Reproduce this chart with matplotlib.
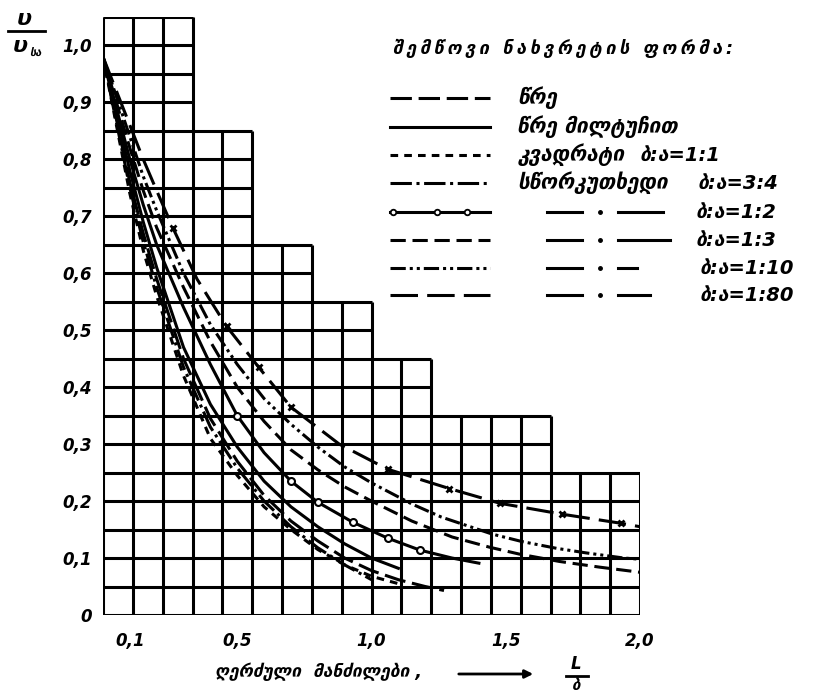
import numpy as np
import matplotlib
matplotlib.use("Agg")
import matplotlib.pyplot as plt

plt.rcParams['font.family'] = ['DejaVu Sans']

# ---------------- DATA ----------------
# velocity ratio v/v0 along the axis of the opening
circle_x = [0.0, 0.05, 0.1, 0.15, 0.2, 0.3, 0.4, 0.5, 0.6, 0.7, 0.8, 0.9, 1.0, 1.1, 1.2, 1.27]
circle_y = [0.98, 0.87, 0.76, 0.67, 0.59, 0.45, 0.345, 0.27, 0.21, 0.165, 0.13, 0.10, 0.078, 0.062, 0.05, 0.043]

flange_x = [0.0, 0.05, 0.1, 0.15, 0.2, 0.3, 0.4, 0.5, 0.6, 0.7, 0.8, 0.9, 1.0, 1.1]
flange_y = [0.98, 0.88, 0.78, 0.69, 0.61, 0.47, 0.37, 0.295, 0.235, 0.19, 0.155, 0.125, 0.10, 0.082]

square_x = [0.0, 0.05, 0.1, 0.15, 0.2, 0.3, 0.4, 0.5, 0.6, 0.7, 0.8, 0.9, 1.0, 1.1]
square_y = [0.98, 0.86, 0.74, 0.64, 0.56, 0.42, 0.31, 0.245, 0.19, 0.15, 0.115, 0.088, 0.068, 0.055]

rect34_x = [0.0, 0.05, 0.1, 0.15, 0.2, 0.3, 0.4, 0.5, 0.6, 0.7, 0.8, 0.9, 1.0]
rect34_y = [0.98, 0.865, 0.75, 0.655, 0.575, 0.435, 0.33, 0.258, 0.2, 0.155, 0.118, 0.088, 0.062]

rect12_x = [0.0, 0.05, 0.1, 0.15, 0.2, 0.3, 0.4, 0.5, 0.6, 0.7, 0.8, 0.93, 1.06, 1.18, 1.3, 1.4]
rect12_y = [0.98, 0.89, 0.80, 0.72, 0.65, 0.54, 0.44, 0.35, 0.285, 0.235, 0.198, 0.163, 0.135, 0.114, 0.10, 0.091]

rect13_x = [0.0, 0.05, 0.1, 0.15, 0.2, 0.3, 0.4, 0.5, 0.6, 0.7, 0.8, 0.9, 1.0, 1.15, 1.3, 1.44, 1.55, 1.7, 1.85, 2.0]
rect13_y = [0.98, 0.90, 0.82, 0.745, 0.68, 0.575, 0.48, 0.40, 0.34, 0.29, 0.255, 0.225, 0.20, 0.165, 0.137, 0.119, 0.107, 0.094, 0.084, 0.075]

rect110_x = [0.0, 0.05, 0.1, 0.15, 0.2, 0.3, 0.4, 0.5, 0.6, 0.7, 0.8, 0.9, 1.0, 1.15, 1.26, 1.45, 1.56, 1.69, 1.8, 1.94, 2.0]
rect110_y = [0.98, 0.91, 0.84, 0.77, 0.71, 0.60, 0.51, 0.44, 0.38, 0.335, 0.295, 0.26, 0.232, 0.195, 0.172, 0.142, 0.129, 0.117, 0.109, 0.100, 0.098]

rect180_x = [0.0, 0.05, 0.1, 0.15, 0.2, 0.26, 0.35, 0.46, 0.58, 0.70, 0.88, 1.06, 1.29, 1.48, 1.71, 1.93, 2.0]
rect180_y = [0.98, 0.92, 0.86, 0.80, 0.745, 0.68, 0.59, 0.507, 0.435, 0.365, 0.30, 0.256, 0.222, 0.196, 0.177, 0.161, 0.155]

x_ticks = [0.1, 0.5, 1.0, 1.5, 2.0]
x_tick_labels = ['0,1', '0,5', '1,0', '1,5', '2,0']
y_ticks = [0.0, 0.1, 0.2, 0.3, 0.4, 0.5, 0.6, 0.7, 0.8, 0.9, 1.0]
y_tick_labels = ['0', '0,1', '0,2', '0,3', '0,4', '0,5', '0,6', '0,7', '0,8', '0,9', '1,0']

legend_title = 'შემწოვი ნახვრეტის ფორმა:'
legend_names = ['წრე', 'წრე მილტუჩით', 'კვადრატი', 'სწორკუთხედი']
legend_ratios = ['ბ:ა=1:1', 'ბ:ა=3:4', 'ბ:ა=1:2', 'ბ:ა=1:3', 'ბ:ა=1:10', 'ბ:ა=1:80']
x_title = 'ღერძული  მანძილები ,'

# stepped grid: (top of band, number of columns), 18 columns of 2.0/18
grid_steps = [(1.05, 3), (0.85, 5), (0.65, 7), (0.55, 9), (0.45, 11), (0.35, 15), (0.25, 18)]

# ---------------- FIGURE ----------------
W, H = 816, 696
fig = plt.figure(figsize=(W / 100, H / 100), dpi=100)
ax = fig.add_axes([103 / W, 81 / H, 537 / W, 598 / H])
ax.set_xlim(0, 2.0)
ax.set_ylim(0, 1.05)

fnt = dict(fontweight='bold', fontstyle='italic')
lw = 2.2
colw = 2.0 / 18


def spaced(s):
    # the printed heading is tracked out
    return '\u2009'.join(s)


def cols_at(y):
    n = grid_steps[0][1]
    for top, nc in grid_steps:
        if y <= top + 1e-9:
            n = nc
    return n

# horizontal grid lines
for k in range(22):
    y = 0.05 * k
    ax.hlines(y, 0, cols_at(y) * colw if k > 0 else 2.0, color='black', lw=lw, zorder=1)
# vertical grid lines
for j in range(19):
    top = max(t for t, nc in grid_steps if nc >= j)
    ax.vlines(j * colw, 0, top, color='black', lw=lw, zorder=1)

# ---------------- CURVES ----------------
styles = {
    'circle': (0, (7, 2.2)),
    'flange': '-',
    'square': (0, (2.5, 2.0)),
    'rect34': (0, (7, 1.5, 1, 1.5)),
    'rect12': '-',
    'rect13': (0, (5, 2.2)),
    'rect110': (0, (5, 1.3, 1, 1.3, 1, 1.3)),
    'rect180': (0, (9, 3)),
}

ax.plot(circle_x, circle_y, color='black', lw=lw, ls=styles['circle'], zorder=3)
ax.plot(flange_x, flange_y, color='black', lw=lw, ls=styles['flange'], zorder=3)
ax.plot(square_x, square_y, color='black', lw=lw, ls=styles['square'], zorder=3)
ax.plot(rect34_x, rect34_y, color='black', lw=lw, ls=styles['rect34'], zorder=3)
ax.plot(rect12_x, rect12_y, color='black', lw=lw, ls=styles['rect12'], zorder=3,
        marker='o', ms=5, mfc='white', mec='black', mew=1.5, markevery=[7, 9, 10, 11, 12, 13])
ax.plot(rect13_x, rect13_y, color='black', lw=lw, ls=styles['rect13'], zorder=3)
ax.plot(rect110_x, rect110_y, color='black', lw=lw, ls=styles['rect110'], zorder=3)
ax.plot(rect180_x, rect180_y, color='black', lw=lw, ls=styles['rect180'], zorder=3,
        marker='x', ms=5, mew=2, markevery=[5, 7, 8, 9, 11, 12, 13, 14, 15])

# ---------------- AXES ----------------
for s in ax.spines.values():
    s.set_visible(False)
ax.set_xticks(x_ticks)
ax.set_xticklabels(x_tick_labels, fontsize=12, **fnt)
ax.set_yticks(y_ticks)
ax.set_yticklabels(y_tick_labels, fontsize=12, **fnt)
ax.tick_params(axis='y', length=0, pad=8)
ax.tick_params(axis='x', length=0, pad=12)

# overlay in pixel coordinates for legend and axis titles
lax = fig.add_axes([0, 0, 1, 1], facecolor='none')
lax.set_xlim(0, W)
lax.set_ylim(H, 0)
lax.axis('off')

# y title: v / v_sa
lax.text(24, 19, 'υ', fontsize=16, ha='center', va='center', **fnt)
lax.plot([8, 45], [31, 31], color='black', lw=2)
lax.text(20, 46, 'υ', fontsize=16, ha='center', va='center', **fnt)
lax.text(36, 54, 'სა', fontsize=8, ha='center', va='center', **fnt)

# x title with arrow and L/b
lax.text(215, 672, x_title, fontsize=12.5, ha='left', va='center', **fnt)
lax.annotate('', xy=(536, 674), xytext=(456, 674),
             arrowprops=dict(arrowstyle='-|>', lw=2, color='black', mutation_scale=12))
lax.text(576, 664, 'L', fontsize=12, ha='center', va='center', **fnt)
lax.plot([566, 588], [676, 676], color='black', lw=2)
lax.text(576, 685, 'ბ', fontsize=11, ha='center', va='center', **fnt)

# legend
lax.text(393, 48, spaced(legend_title), fontsize=13, ha='left', va='center', **fnt)
row_y = [98, 127, 155, 183, 212, 240, 268, 295]
order = ['circle', 'flange', 'square', 'rect34', 'rect12', 'rect13', 'rect110', 'rect180']
for i, key in enumerate(order):
    y = row_y[i]
    if key == 'rect12':
        lax.plot([390, 490], [y, y], color='black', lw=lw, ls='-')
        lax.plot([393, 437, 467], [y, y, y], 'o', color='black', ms=4, mfc='white', mew=1.3)
    else:
        lax.plot([390, 490], [y, y], color='black', lw=lw, ls=styles[key])
for i, name in enumerate(legend_names):
    lax.text(517, row_y[i], name, fontsize=15, ha='left', va='center', **fnt)
ratio_x = [640, 698, 695, 695, 700, 700]
for i, r in enumerate(legend_ratios):
    lax.text(ratio_x[i], row_y[i + 2], r, fontsize=14, ha='left', va='center', **fnt)

# ditto marks for the rectangle rows
for i in range(4, 8):
    y = row_y[i]
    right = [663, 670, 637, 650][i - 4]
    lax.plot([547, 582], [y, y], color='black', lw=lw)
    lax.plot([600], [y], 'o', color='black', ms=2.5)
    lax.plot([618, right], [y, y], color='black', lw=lw)

fig.savefig('out.png', dpi=100)
